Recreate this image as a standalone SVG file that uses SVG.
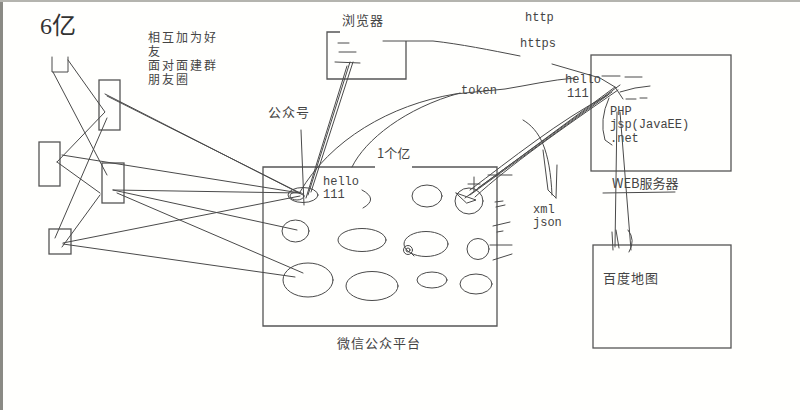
<svg xmlns="http://www.w3.org/2000/svg" width="800" height="410" viewBox="0 0 800 410">
<style>
.s{fill:none;stroke:#4a4a4a;stroke-width:1;stroke-linecap:round;stroke-linejoin:round}
.b{fill:none;stroke:#555;stroke-width:1.3}
.cn{font-family:"Noto Sans CJK SC","Noto Sans",sans-serif;font-size:13px;fill:#444}
.cs{font-family:"Liberation Sans","Noto Sans CJK SC",sans-serif;font-size:12px;fill:#444}
.mo{font-family:"Liberation Mono","DejaVu Sans Mono",monospace;font-size:12px;fill:#444}
</style>
<rect x="0" y="0" width="800" height="410" fill="#fffffd"/>
<rect x="0" y="0" width="3" height="410" fill="#8a8a84"/>
<rect x="0" y="0" width="800" height="2" fill="#b4b4ae"/>

<text x="40" y="34" style="font-family:'Liberation Serif','Noto Sans CJK SC',serif;font-size:24px;fill:#333">6亿</text>
<g id="note">
<text class="cs" x="148" y="42" letter-spacing="2">相互加为好</text>
<text class="cs" x="148" y="56">友</text>
<text class="cs" x="148" y="70" letter-spacing="2">面对面建群</text>
<text class="cs" x="148" y="84" letter-spacing="2">朋友圈</text>
</g>

<g id="user-u"><path class="s" d="M52,57 L52,72 L68,72 L68,57"/></g>
<g id="user-1"><rect class="b" x="99" y="80" width="21" height="50"/></g>
<g id="user-2"><rect class="b" x="39" y="142" width="21" height="44"/></g>
<g id="user-3"><rect class="b" x="102" y="163" width="22" height="40"/></g>
<g id="user-4"><rect class="b" x="49" y="229" width="22" height="25"/></g>

<g id="browser">
<path class="b" d="M340,32 L327,32 L327,79 L406,79 L406,41"/>
<path class="s" d="M338,43 L349,43 M339,52 L356,52 M335,62 L360,63"/>
<text class="cn" x="342" y="25" letter-spacing="1">浏览器</text>
</g>

<g id="gzh-label"><text class="cn" x="268" y="117" letter-spacing="1">公众号</text></g>

<g id="platform">
<path class="b" d="M375,167 L263,167 L263,326 L497,326 L497,167 L412,167"/>
<text class="cn" x="377" y="158">1个亿</text>
<text class="cn" x="337" y="348" letter-spacing="1">微信公众平台</text>
<ellipse class="s" cx="303" cy="195" rx="15" ry="7.5"/>
<ellipse class="s" cx="297" cy="196" rx="7" ry="4"/>
<text class="mo" x="323" y="185">hello</text>
<text class="mo" x="323" y="198">111</text>
<path class="s" d="M362,190 Q379,199 363,208"/>
<ellipse class="s" cx="427" cy="196" rx="15" ry="11"/>
<ellipse class="s" cx="469" cy="201" rx="14" ry="13"/>
<ellipse class="s" cx="295.5" cy="231" rx="13.5" ry="11"/>
<ellipse class="s" cx="362" cy="240" rx="24" ry="11.5"/>
<ellipse class="s" cx="426" cy="244" rx="22" ry="12.5"/>
<circle class="s" cx="408" cy="250" r="4.5"/>
<circle class="s" cx="408" cy="250" r="2"/>
<path class="s" d="M411,253 L414,256"/>
<ellipse class="s" cx="478" cy="249" rx="11" ry="10.5"/>
<ellipse class="s" cx="308" cy="280" rx="25" ry="17"/>
<ellipse class="s" cx="372" cy="286" rx="26" ry="14.5"/>
<ellipse class="s" cx="432" cy="280" rx="15" ry="8"/>
<ellipse class="s" cx="476" cy="284" rx="16" ry="10"/>
<path class="s" d="M474,177 L474,191 M468,184 L480,184"/>
<path class="s" d="M456,193 L476,200 L467,203 Z"/>
<path class="s" d="M488,175 L512,175 M495,202 L503,201 M496,207 L505,205 M493,226 L510,222 M497,232 L503,231 M490,245 L512,245 M493,260 L512,254"/>
</g>

<g id="web-server">
<rect class="b" x="591" y="55" width="140" height="116"/>
<text class="mo" x="610" y="115">PHP</text>
<text class="mo" x="610" y="128">jsp(JavaEE)</text>
<text class="mo" x="610" y="142">.net</text>
<text class="cn" x="612" y="188">WEB服务器</text>
<path class="s" d="M603,193 L675,192"/>
<path class="s" d="M609,98 Q599,120 605,140 L612,145"/>
</g>

<g id="baidu-map">
<rect class="b" x="593" y="245" width="138" height="103"/>
<text class="cn" x="603" y="283" letter-spacing="1">百度地图</text>
</g>

<text class="mo" x="525" y="21">http</text>
<text class="mo" x="520" y="47">https</text>
<text class="mo" x="461" y="94">token</text>
<text class="mo" x="565" y="83">hello</text>
<text class="mo" x="567" y="97">111</text>
<text class="mo" x="533" y="213">xml</text>
<text class="mo" x="533" y="226">json</text>

<g id="connectors">
<path class="s" d="M53,72 L107,175"/>
<path class="s" d="M68,60 L105,112 L57,162"/>
<path class="s" d="M107,118 L55,238"/>
<path class="s" d="M57,162 L100,193"/>
<path class="s" d="M62,155 L300,193"/>
<path class="s" d="M113,190 L300,193" stroke-width="2"/>
<path class="s" d="M113,190 L297,230"/>
<path class="s" d="M117,193 L303,273"/>
<path class="s" d="M62,247 L100,195"/>
<path class="s" d="M63,243 L300,196"/>
<path class="s" d="M63,244 L295,277"/>
<path class="s" d="M105,94 L303,195 M107,96 L300,193"/>
<path class="s" d="M350,62 L308,195 M353,62 L311,192 M347,66 L306,198"/>
<path class="s" d="M301,130 L304,205"/>
<path class="s" d="M300,192 C330,140 390,105 455,94 L505,89 C530,85 550,80 575,78"/>
<path class="s" d="M352,167 C365,140 405,108 460,93"/>
<path class="s" d="M383,41 L433,41 C460,44 490,50 520,56"/>
<path class="s" d="M552,64 L600,78 L615,87 L623,99"/>
<path class="s" d="M602,76 L620,76 M625,77 L642,77 M620,92 Q635,87 650,86 M626,99 L636,99 M640,98 L647,98"/>
<path class="s" d="M615,87 L465,198 M612,92 L470,195 M618,90 C560,130 510,165 475,197 M608,95 C560,120 510,160 470,190 M620,85 L478,188"/>
<path class="s" d="M617,112 L615,247 M620,112 L631,250 M612,232 L613,250 M616,230 L619,248 M628,230 Q636,240 629,252"/>
<path class="s" d="M523,120 C540,130 550,150 552,195 M543,150 L548,190 L556,198 M557,165 L556,198"/>
</g>
</svg>
